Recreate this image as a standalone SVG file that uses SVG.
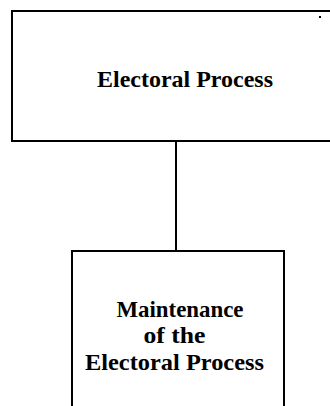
<svg xmlns="http://www.w3.org/2000/svg" width="330" height="406" viewBox="0 0 330 406">
  <style>
    .box { fill: #ffffff; stroke: #000000; stroke-width: 2; }
    .edge { fill: none; stroke: #000000; stroke-width: 2; }
    .label { font-family: "Liberation Serif", "Times New Roman", serif; font-weight: bold; font-size: 22.5px; fill: #000000; text-anchor: middle; }
  </style>
  <rect width="330" height="406" fill="#ffffff"/>

  <g id="connectors">
    <line class="edge" x1="176" y1="141" x2="176" y2="251"/>
  </g>

  <g id="electoral-process">
    <!-- box runs past the right edge -->
    <path class="box" d="M340 11 H12 V141 H340"/>
    <rect x="319" y="16" width="2" height="2" fill="#000000"/>
    <text class="label" x="185" y="87" textLength="176" lengthAdjust="spacingAndGlyphs">Electoral Process</text>
  </g>

  <g id="maintenance">
    <!-- box runs past the bottom edge -->
    <path class="box" d="M72 420 V251 H284 V420"/>
    <text class="label" x="180" y="317" textLength="127" lengthAdjust="spacingAndGlyphs">Maintenance</text>
    <text class="label" x="174.5" y="343" textLength="62" lengthAdjust="spacingAndGlyphs">of the</text>
    <text class="label" x="174.5" y="370" textLength="179" lengthAdjust="spacingAndGlyphs">Electoral Process</text>
  </g>
</svg>
